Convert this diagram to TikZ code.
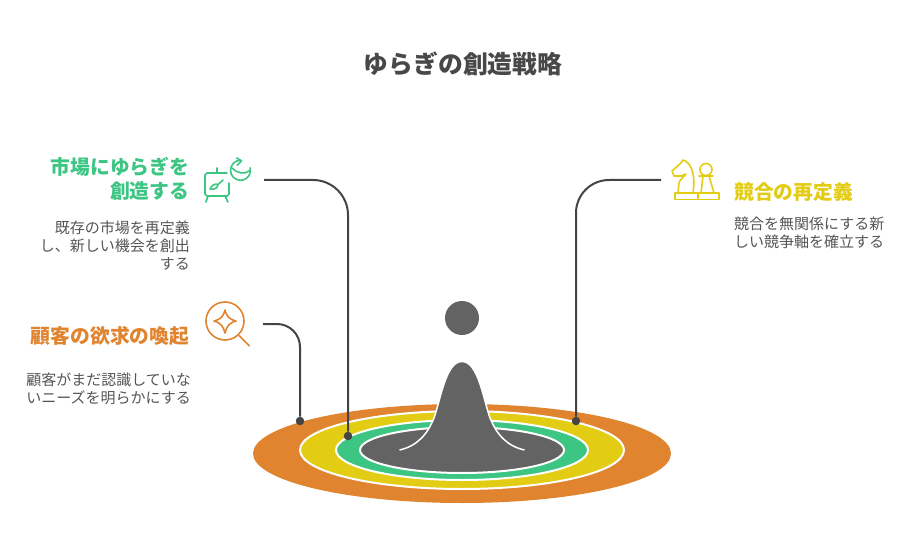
\documentclass[tikz,border=0pt]{standalone}
\usepackage{fontspec}
\setmainfont{Noto Sans CJK JP}
\usetikzlibrary{arrows}
\definecolor{titlegray}{HTML}{484848}
\definecolor{bodygray}{HTML}{555555}
\definecolor{linegray}{HTML}{444444}
\definecolor{shapegray}{HTML}{636363}
\definecolor{orangeband}{HTML}{E08430}
\definecolor{yellowband}{HTML}{E3CC14}
\definecolor{greenband}{HTML}{3CC583}
\tikzset{
  head/.style={font=\fontsize{19.8}{24}\selectfont\bfseries, align=right, inner sep=0pt},
  body/.style={font=\fontsize{15}{18}\selectfont, text=bodygray, align=right, inner sep=0pt},
  band/.style={draw=white, line width=2pt},
  leader/.style={draw=linegray, line width=2pt},
  dot/.style={circle, fill=linegray, inner sep=0pt, minimum size=8.5pt},
  icon/.style={line width=1.6pt, line cap=round, line join=round}
}

\begin{document}
\begin{tikzpicture}[x=1pt,y=-1pt]
      \useasboundingbox (0,0) rectangle (912,553);
%      \draw [help lines, opacity=0.5] (0,0) grid (912,553);

      \node [font=\fontsize{24.8}{28}\selectfont\bfseries, text=titlegray] (title) at (463,64) {ゆらぎの創造戦略};

      % rings
      \fill [orangeband] (462,453.5) ellipse (209 and 49.5);
      \draw [band, fill=yellowband] (462,450) ellipse (162 and 39);
      \draw [band, fill=greenband] (462,450) ellipse (126 and 30);
      \draw [band, fill=shapegray] (462,450) ellipse (102 and 23);

      % peak and ball
      \draw [white, line width=1.5pt, fill=shapegray] (399.5,450) .. controls (417,446) and (427,435) .. (434,418)
        .. controls (441,398) and (446,361.5) .. (462,361.5)
        .. controls (478,361.5) and (483,398) .. (490,418)
        .. controls (497,435) and (507,446) .. (524.5,450);
      \fill [shapegray] (462,318) circle (17);

      % connectors
      \coordinate (marketstart) at (264,180);
      \coordinate (needstart) at (263,324);
      \coordinate (rivalstart) at (661,180);
      \node [dot] (marketdot) at (348,436) {};
      \node [dot] (needdot) at (300,421) {};
      \node [dot] (rivaldot) at (576,421) {};
      \draw [leader, rounded corners=35pt] (marketstart) -| (marketdot);
      \draw [leader, rounded corners=23pt] (needstart) -| (needdot);
      \draw [leader, rounded corners=33pt] (rivalstart) -| (rivaldot);

      % left texts
      \node [head, text=greenband, anchor=east] (markethead) at (189.5,179) {市場にゆらぎを\\創造する};
      \node [body, anchor=east] (marketbody) at (190,246) {既存の市場を再定義\\し、新しい機会を創出\\する};
      \node [head, text=orangeband, anchor=east] (needhead) at (189.5,336) {顧客の欲求の喚起};
      \node [body, anchor=east] (needbody) at (191,389) {顧客がまだ認識していな\\いニーズを明らかにする};

      % right texts
      \node [head, text=yellowband, anchor=west] (rivalhead) at (734,192) {競合の再定義};
      \node [body, anchor=west, align=left] (rivalbody) at (734,233) {競合を無関係にする新\\しい競争軸を確立する};

      % easel icon
      \begin{scope}[icon, draw=greenband]
      \draw (229,183) -- (229,194) -- (227,196) -- (207,196) -- (205,194) -- (205,175) -- (207,173) -- (227,173);
      \draw (217,168) -- (217,173);
      \draw (208,196) -- (206,202);
      \draw (225,196) -- (228,202);
      \draw (223,180) -- (218,184.5);
      \draw (218,184.5) .. controls (215,183) and (211,186) .. (210,189) .. controls (214,190) and (218,188) .. (218,184.5);
      \draw (240.5,160.3) arc [start angle=90, end angle=375, radius=10pt];
      \draw (236.7,158) -- (241.5,160.8) -- (237.3,165.3);
      \draw (232,168) .. controls (236,173) and (245,175) .. (250,170.5);
      \end{scope}

      % glass icon
      \begin{scope}[icon, draw=orangeband]
      \draw (225,321) circle (19);
      \draw (239.3,335.7) -- (249.3,345.7);
      \draw (225,310) .. controls (227,317) and (229,319) .. (236,321)
        .. controls (229,323) and (227,326) .. (225,333)
        .. controls (223,326) and (221,323) .. (214,321)
        .. controls (221,319) and (223,317) .. (225,310) -- cycle;
      \end{scope}

      % chess icon
      \begin{scope}[icon, draw=yellowband]
      \draw (675,193) rectangle (698,199.5);
      \draw (678,193) -- (679,183) .. controls (680,179) and (684,177) .. (686,174) -- (681,176) -- (674,176) -- (672,171) -- (681,163) -- (683,160)
        .. controls (690,162) and (696,172) .. (693,193);
      \draw (698,193) -- (719,193);
      \draw (698,199.5) -- (719,199.5) -- (719,193);
      \draw (706,169.5) circle (6);
      \draw (699,176) -- (713,176);
      \draw (703,176) -- (701,193) (709,176) -- (714,193);
      \end{scope}
\end{tikzpicture}
\end{document}
